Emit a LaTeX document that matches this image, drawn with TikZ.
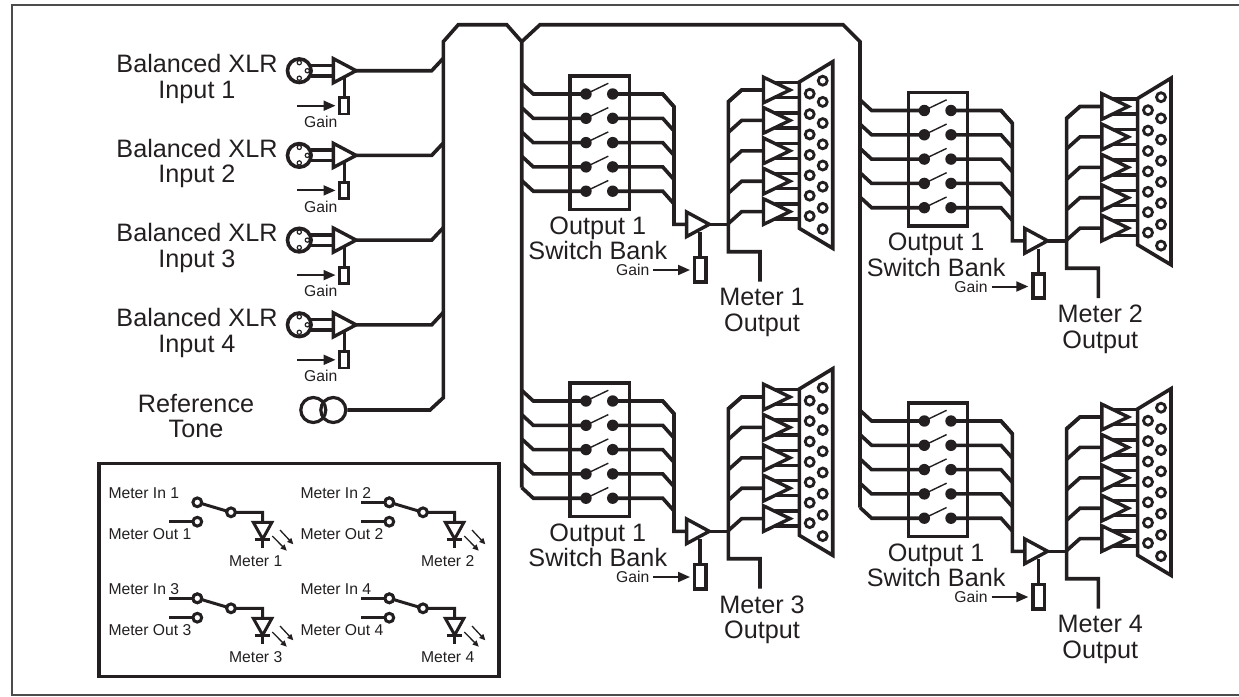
\documentclass[tikz,border=0pt]{standalone}
\usepackage{fontspec}
\setmainfont{Liberation Sans}
\usepackage{xcolor}
\usetikzlibrary{arrows.meta, positioning, calc}
\definecolor{cInk}{RGB}{35,31,32}
\newcommand{\biglabel}{\fontsize{25.2}{25.6}\selectfont}
\newcommand{\smalllabel}{\fontsize{15.7}{18}\selectfont}
\tikzset{
	wire/.style     ={line width=3.6pt},
	ampline/.style  ={line width=3.4pt},
	thinarm/.style  ={line width=1.4pt},
	frameline/.style={line width=2pt, draw=black!70},
	biglbl/.style   ={font=\biglabel, align=center, inner sep=0pt},
	smalllbl/.style ={font=\smalllabel, inner sep=0pt},
	gainarrow/.style={-{Triangle[length=12pt, width=10pt]}, line width=2pt},
	ledarrow/.style ={-{Triangle[length=6pt, width=5.5pt]}, line width=1.3pt},
	hole/.style     ={line width=2.8pt},
	ring/.style     ={line width=3pt, fill=white},
	% one balanced input channel, origin at the amplifier tip
	pics/inputamp/.style={code={
		\node[biglbl] (-lbl) at (-161,8) {Balanced XLR\\Input #1};
		\coordinate (-tap) at (85.3,-12.4);
		\draw[wire] (-1.9,0) -- (73.7,0) -- (-tap);
		\draw[ampline] (-47,-5.3) -- (-24.7,-5.3) (-47,5.3) -- (-24.7,5.3);
		\draw[wire] (-58.7,0) circle (11.8);
		\foreach \px/\py in {-58.7/-8, -50.7/0, -58.7/7.5} \draw[line width=1.2pt] (\px,\py) circle (2.1);
		\draw[ampline] (-24.7,-12.1) -- (-24.7,12.1) -- (-1.9,0) -- cycle;
		\draw[wire] (-13.7,7) -- (-13.7,27);
		\draw[line width=2.8pt] (-18.4,27) rectangle (-9.4,43.2);
		\coordinate (-gs) at (-60.7,35);
		\coordinate (-ge) at (-22.5,35);
		\draw[gainarrow] (-gs) -- (-ge);
		\node[smalllbl] (-gain) at (-37.3,51) {Gain};
	}},
	% one output section, origin at the top left corner of the switch box
	pics/switchbank/.style={code={
		\draw[wire] (0,0) rectangle (59.3,133.3);
		\foreach \k in {0,...,4} {
			\pgfmathsetmacro{\ry}{18+24.3*\k}
			\coordinate (-in\k) at (-48.3,\ry-10.7);
			\draw[wire] (-in\k) -- (-36.7,\ry) -- (16,\ry);
			\draw[wire] (42.7,\ry) -- (92.7,\ry) -- (104,\ry+12.7);
			\fill (16,\ry) circle (5.7) (42.7,\ry) circle (5.7);
			\draw[thinarm] (16,\ry) -- (38.3,\ry-10.7);
		}
		\draw[wire] (92.7,18) -- (104,30.7) -- (104,148.3) -- (116.6,148.3);
		\draw[ampline] (116.6,136) -- (116.6,160.6) -- (139.3,148.3) -- cycle;
		\draw[wire] (139.3,148.3) -- (158.3,148.3);
		\draw[wire] (171.7,14) -- (158.3,25.7) -- (158.3,175.7) -- (190,175.7) -- (190,205.7);
		\draw[wire] (130,156) -- (130,181.3);
		\draw[wire] (124.5,181.3) rectangle (136,205.7);
		\coordinate (-gs) at (83.3,194);
		\coordinate (-ge) at (120,194);
		\draw[gainarrow] (-gs) -- (-ge);
		\node[smalllbl] (-gain) at (62.7,194) {Gain};
		\foreach \j in {0,...,4} {
			\pgfmathsetmacro{\fy}{14+30.4*\j}
			\draw[wire] (193.5,\fy) -- (171.7,\fy) -- (158.3,\fy+12);
			\draw[ampline] (204.5,\fy-7.5) -- (229.3,\fy-7.5) (204.5,\fy+7.5) -- (229.3,\fy+7.5);
			\draw[ampline] (193.5,\fy-12.8) -- (193.5,\fy+12.8) -- (220,\fy) -- cycle;
		}
		\draw[wire, fill=white] (229.3,6) -- (262.7,-14.3) -- (262.7,172.3) -- (229.3,152.3) -- cycle;
		\foreach \i in {0,...,7} \draw[hole] (252.7,4.7+21.2*\i) circle (4.5);
		\foreach \i in {0,...,6} \draw[hole] (239.7,17.7+20.4*\i) circle (4.5);
		\node[biglbl] (-lbl) at (27.8,162.3) {Output 1\\Switch Bank};
		\node[biglbl] (-mtr) at (192,236.7) {Meter #1\\Output};
	}},
	% one meter switch of the legend, origin at the upper contact
	pics/metercell/.style={code={
		\coordinate (-hi) at (0,0);
		\coordinate (-lo) at (0,19.4);
		\coordinate (-pole) at (33.7,10);
		\draw[line width=3pt] (-28.3,19.4) -- (-lo);
		\draw[line width=3pt] (-hi) -- (-pole) -- (65.4,10) -- (65.4,19.4);
		\draw[ring] (-hi) circle (4.4) (-lo) circle (4.4) (-pole) circle (4.4);
		\draw[line width=3pt] (56,20) -- (74.6,20) -- (65.4,36.7) -- cycle;
		\draw[line width=3pt] (57.8,36.7) -- (73,36.7) (65.4,36.7) -- (65.4,46);
		\draw[ledarrow] (82.7,27.7) -- (96,42);
		\draw[ledarrow] (75,33.7) -- (89.4,48.4);
		\node[smalllbl, anchor=west] (-inl) at (-89,-9.6) {Meter In #1};
		\node[smalllbl, anchor=west] (-outl) at (-89,31.7) {Meter Out #1};
		\node[smalllbl] (-mtr) at (58.4,58.4) {Meter #1};
	}},
}
\begin{document}
\begin{tikzpicture}[x=1pt, y=-1pt, color=cInk]
	\useasboundingbox (0,0) rectangle (1239,696);
	\draw[frameline] (1239,5) -- (11.5,5) -- (11.5,694.5) -- (1239,694.5);

	% inputs
	\foreach \n/\yy in {1/70.7, 2/155.4, 3/240.1, 4/324.8}
		\pic (in\n) at (358,\yy) {inputamp=\n};
	\node[biglbl] (tonelbl) at (196,416) {Reference\\Tone};
	\node[circle, draw, line width=3.2pt, minimum size=25pt, inner sep=0pt] (toneA) at (313.3,410) {};
	\node[circle, draw, line width=3.2pt, minimum size=25pt, inner sep=0pt] (toneB) at (333.3,410) {};

	% outputs
	\pic (bk1) at (570,76) {switchbank=1};
	\pic (bk2) at (908.3,92.5) {switchbank=2};
	\pic (bk3) at (570,383) {switchbank=3};
	\pic (bk4) at (908.3,403) {switchbank=4};

	% buses
	\coordinate (busV) at (521.7,41.7);
	\draw[wire] (toneB.east) -- (430,410) -- (443.3,397.7) -- (443.3,41.7) -- (458.3,24.7) -- (506.7,24.7) -- (busV);
	\draw[wire] (bk3-in4) -- (busV) -- (540,24.7) -- (843,24.7) -- (860,41.7) -- (bk4-in4);

	% legend
	\draw[line width=3.4pt] (99,463.5) rectangle (499,676.7);
	\pic (mt1) at (197.3,502.3) {metercell=1};
	\pic (mt2) at (389.3,502.3) {metercell=2};
	\pic (mt3) at (197.3,598.3) {metercell=3};
	\pic (mt4) at (389.3,598.3) {metercell=4};
	\foreach \n in {2,3,4} {
		\coordinate (st\n) at ($(mt\n-hi)+(-28.3,0)$);
		\draw[line width=3pt] (st\n) -- (mt\n-hi);
		\draw[ring] (mt\n-hi) circle (4.4);
	}
\end{tikzpicture}
\end{document}
